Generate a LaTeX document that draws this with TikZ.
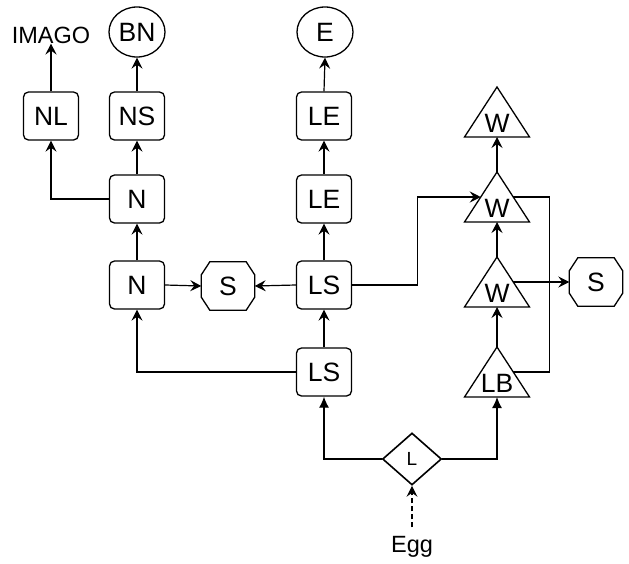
\documentclass[tikz,border=0pt]{standalone}
\usepackage{fontspec}
\setmainfont{Liberation Sans}
\usetikzlibrary{arrows.meta,shapes.geometric,calc}
\newcommand\mytri[4]{%
  \coordinate (#1-t) at (#2,#3-25);
  \coordinate (#1-b) at (#2,#3+25);
  \coordinate (#1-l) at (#2-16.25,#3);
  \coordinate (#1-r) at (#2+16.25,#3);
  \draw[shapeline] (#1-t) -- (#2-32.5,#3+25) -- (#2+32.5,#3+25) -- cycle;
  \node[txt] (#1) at (#2,#3+11) {#4};}
\newcommand\myoct[4]{%
  \node[txt,minimum width=53pt,minimum height=48pt] (#1) at (#2,#3) {#4};
  \draw[shapeline] ($(#1.north west)+(8.5,0)$) -- ($(#1.north east)+(-8.5,0)$)
    -- ($(#1.north east)+(0,13)$) -- ($(#1.south east)+(0,-13)$)
    -- ($(#1.south east)+(-8.5,0)$) -- ($(#1.south west)+(8.5,0)$)
    -- ($(#1.south west)+(0,-13)$) -- ($(#1.north west)+(0,13)$) -- cycle;}
\begin{document}
\begin{tikzpicture}[x=1pt,y=-1pt,
  txt/.style={inner sep=0pt,font=\fontsize{26.5}{30}\selectfont},
  shapeline/.style={draw,line width=1.3pt},
  rbox/.style={txt,draw,line width=1.3pt,rounded corners=5pt,minimum width=55pt,minimum height=48pt},
  ell/.style={txt,draw,line width=1.3pt,ellipse,minimum width=56pt,minimum height=50pt},
  arr/.style={line width=1.2pt,-{Stealth[length=11pt,width=11pt,inset=4pt]}},
  arrL/.style={line width=1.2pt,-{Latex[length=11pt,width=10pt]}},
  plain/.style={line width=1.2pt}]
\useasboundingbox (0,0) rectangle (629,563);
% left column
\node[txt,font=\fontsize{23.5}{26}\selectfont] (IMAGO) at (51,35) {IMAGO};
\node[ell] (BN) at (137,32) {BN};
\node[ell] (E) at (325,32) {E};
\node[rbox] (NL) at (51,116) {NL};
\node[rbox] (NS) at (137,116) {NS};
\node[rbox] (N1) at (137,199) {N};
\node[rbox] (N0) at (137,285) {N};
\myoct{S1}{228}{286}{S}
\node[rbox] (LSa) at (324,285) {LS};
\node[rbox] (LSb) at (324,372) {LS};
\node[rbox] (LEb) at (324,199) {LE};
\node[rbox] (LEa) at (324,116) {LE};
% right column
\mytri{W1}{497}{112}{W}
\mytri{W2}{497}{197}{W}
\mytri{W3}{497}{282}{W}
\mytri{LB}{497}{372}{LB}
\myoct{S2}{596}{282}{S}
\node[txt,draw,diamond,line width=1.6pt,minimum width=59pt,minimum height=52pt,font=\fontsize{19}{21}\selectfont] (L) at (412,459) {L};
\node[txt,font=\fontsize{23.5}{26}\selectfont] (Egg) at (412,547) {Egg};
% connectors
\draw[arr] (NL.north) -- (IMAGO.south);
\draw[arr] (NS.north) -- (BN.south);
\draw[arr] (N1.north) -- (NS.south);
\draw[arr] (N1.west) -| (NL.south);
\draw[arr] (N0.north) -- (N1.south);
\draw[arr] (N0.east) -- (S1.west);
\draw[arr] (LSa.west) -- (S1.east);
\draw[arr] (LSb.west) -| (N0.south);
\draw[arr] (LSb.north) -- (LSa.south);
\draw[arr] (LSa.north) -- (LEb.south);
\draw[arr] (LEb.north) -- (LEa.south);
\draw[arr] (LEa.north) -- (E.south);
\draw[arr] (LSa.east) -- ++(65,0) |- (W2-l);
\draw[plain] (W2-r) -- ++(36,0) |- (LB-r);
\draw[arr] (W3-r) -- (S2.west);
\draw[arr] (LB-t) -- (W3-b);
\draw[arr] (W3-t) -- (W2-b);
\draw[arr] (W2-t) -- (W1-b);
\draw[arrL] (L.west) -| (LSb.south);
\draw[arrL] (L.east) -| (LB-b);
\draw[arr,dash pattern=on 5pt off 3pt] ($(Egg.north)+(0,-9)$) -- (L.south);
\end{tikzpicture}
\end{document}
